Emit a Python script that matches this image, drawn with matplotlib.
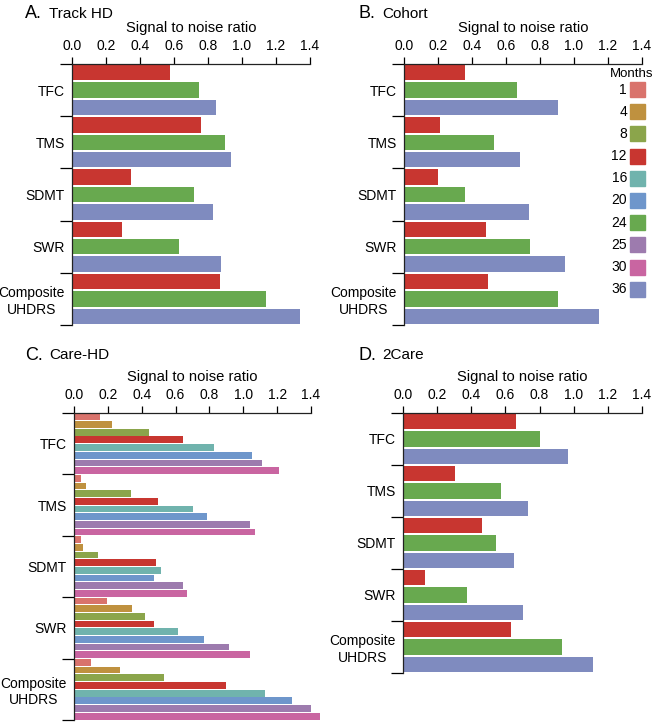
import matplotlib
matplotlib.use('Agg')
import matplotlib.pyplot as plt
from matplotlib.patches import Rectangle

plt.rcParams['font.family'] = ['Liberation Sans', 'DejaVu Sans']

measures = ['TFC', 'TMS', 'SDMT', 'SWR', 'Composite\nUHDRS']
months = ['1', '4', '8', '12', '16', '20', '24', '25', '30', '36']
month_colors = {
    '1': '#d9736c', '4': '#bf913f', '8': '#8ba54b', '12': '#c83630',
    '16': '#70b3ad', '20': '#6e96cb', '24': '#68a94f', '25': '#9d7bae',
    '30': '#c965a1', '36': '#7f8bbf',
}

# Track HD (12, 24, 36 months)
trackhd_12 = [0.576, 0.757, 0.345, 0.294, 0.869]
trackhd_24 = [0.747, 0.898, 0.716, 0.627, 1.139]
trackhd_36 = [0.847, 0.937, 0.827, 0.876, 1.341]

# Cohort (12, 24, 36 months)
cohort_12 = [0.361, 0.210, 0.202, 0.483, 0.493]
cohort_24 = [0.664, 0.532, 0.361, 0.744, 0.905]
cohort_36 = [0.905, 0.683, 0.734, 0.946, 1.147]

# Care-HD (1, 4, 8, 12, 16, 20, 25, 30 months)
carehd_1 = [0.153, 0.041, 0.041, 0.192, 0.102]
carehd_4 = [0.224, 0.073, 0.053, 0.344, 0.273]
carehd_8 = [0.444, 0.334, 0.143, 0.422, 0.534]
carehd_12 = [0.646, 0.495, 0.485, 0.475, 0.898]
carehd_16 = [0.827, 0.705, 0.514, 0.615, 1.129]
carehd_20 = [1.049, 0.787, 0.475, 0.766, 1.290]
carehd_25 = [1.109, 1.039, 0.646, 0.917, 1.400]
carehd_30 = [1.209, 1.068, 0.666, 1.039, 1.451]

# 2Care (12, 24, 36 months)
twocare_12 = [0.664, 0.304, 0.462, 0.131, 0.632]
twocare_24 = [0.805, 0.572, 0.542, 0.372, 0.934]
twocare_36 = [0.965, 0.732, 0.652, 0.703, 1.114]

xticks = [0.0, 0.2, 0.4, 0.6, 0.8, 1.0, 1.2, 1.4]

W, H = 655, 722
fig = plt.figure(figsize=(W / 100, H / 100), dpi=100)


def px_axes(left, top, right, bottom):
    return fig.add_axes([left / W, 1 - bottom / H, (right - left) / W, (bottom - top) / H])


def panel(ax, series):
    n = len(series)
    for k, (m, vals) in enumerate(series):
        ys = [i + (k + 0.5) / n for i in range(len(measures))]
        ax.barh(ys, vals, height=0.88 / n, color=month_colors[m], clip_on=False,
                edgecolor='none')
    ax.set_xlim(0, 1.4)
    ax.set_ylim(len(measures), 0)
    ax.set_xticks(xticks)
    ax.set_xticklabels(['%.1f' % t for t in xticks])
    ax.xaxis.tick_top()
    ax.xaxis.set_label_position('top')
    ax.set_xlabel('Signal to noise ratio', fontsize=10.6, labelpad=5)
    ax.set_yticks(range(len(measures) + 1))
    ax.set_yticklabels([])
    ax.set_yticks([i + 0.5 for i in range(len(measures))], minor=True)
    ax.set_yticklabels(measures, minor=True, fontsize=10, multialignment='center')
    ax.tick_params(axis='y', which='major', length=9, width=0.9, direction='out')
    ax.tick_params(axis='y', which='minor', length=0, pad=5)
    ax.tick_params(axis='x', length=5, width=0.9, direction='out', labelsize=10, pad=3)
    for s in ['right', 'bottom']:
        ax.spines[s].set_visible(False)
    for s in ['top', 'left']:
        ax.spines[s].set_linewidth(0.9)
        ax.spines[s].set_color('#222222')


ax_a = px_axes(72, 64, 310, 325)
panel(ax_a, [('12', trackhd_12), ('24', trackhd_24), ('36', trackhd_36)])

ax_b = px_axes(404, 64, 642, 325)
panel(ax_b, [('12', cohort_12), ('24', cohort_24), ('36', cohort_36)])

ax_c = px_axes(74, 413, 311, 720)
panel(ax_c, [('1', carehd_1), ('4', carehd_4), ('8', carehd_8), ('12', carehd_12),
             ('16', carehd_16), ('20', carehd_20), ('25', carehd_25), ('30', carehd_30)])

ax_d = px_axes(403, 413, 642, 673)
panel(ax_d, [('12', twocare_12), ('24', twocare_24), ('36', twocare_36)])

# panel titles
titles = [('A.', 'Track HD', 25, 14), ('B.', 'Cohort', 358, 14),
          ('C.', 'Care-HD', 25, 355), ('D.', '2Care', 358, 355)]
for letter, name, x, y in titles:
    fig.text(x / W, 1 - y / H, letter, fontsize=13, va='center', ha='left')
    fig.text((x + 24) / W, 1 - y / H, name, fontsize=11, va='center', ha='left')

# months legend
fig.text(632 / W, 1 - 74 / H, 'Months', fontsize=9.5, ha='center', va='center')
for j, m in enumerate(months):
    yc = 89.5 + j * 22.2
    fig.patches.append(Rectangle((630 / W, 1 - (yc + 7.5) / H), 15 / W, 15 / H,
                                 transform=fig.transFigure, color=month_colors[m]))
    fig.text(627 / W, 1 - yc / H, m, fontsize=10, ha='right', va='center')

fig.savefig('out.png', dpi=100)
